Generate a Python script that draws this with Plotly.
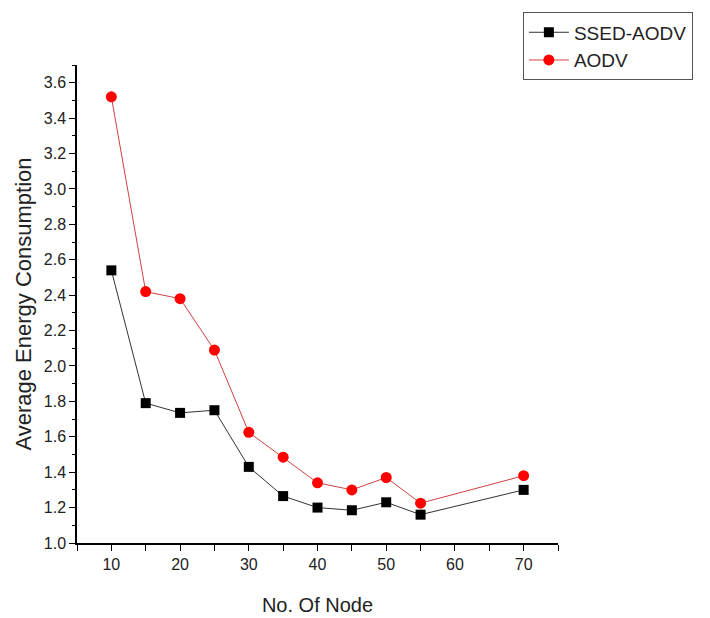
import plotly.graph_objects as go

nodes = [10, 15, 20, 25, 30, 35, 40, 45, 50, 55, 70]
ssed_aodv = [2.54, 1.79, 1.735, 1.75, 1.43, 1.265, 1.20, 1.185, 1.23, 1.16, 1.30]
aodv = [3.52, 2.42, 2.38, 2.09, 1.625, 1.485, 1.34, 1.30, 1.37, 1.225, 1.38]

fig = go.Figure()
fig.add_trace(go.Scatter(x=nodes, y=ssed_aodv, mode="lines+markers", name="SSED-AODV",
                         line=dict(color="#333333", width=1),
                         marker=dict(symbol="square", size=10, color="black")))
fig.add_trace(go.Scatter(x=nodes, y=aodv, mode="lines+markers", name="AODV",
                         line=dict(color="#d04040", width=1),
                         marker=dict(symbol="circle", size=11, color="#ff0000")))

font = "Liberation Sans, Arial, sans-serif"
fig.update_layout(
    width=710, height=618,
    margin=dict(l=77, r=152, t=63, b=75),
    plot_bgcolor="white", paper_bgcolor="white",
    font=dict(family=font, color="#222222"),
    legend=dict(x=0.927, y=1.11, xanchor="left", yanchor="top",
                bordercolor="#555555", borderwidth=1, font=dict(size=19, color="#222222"),
                bgcolor="white", itemwidth=40, tracegroupgap=0),
    xaxis=dict(range=[5, 75], tickvals=[10, 20, 30, 40, 50, 60, 70], ticks="outside",
               ticklen=6, tickcolor="black", showline=True, linecolor="black", linewidth=1.5,
               showgrid=False, zeroline=False, tickfont=dict(size=16), automargin=False,
               minor=dict(tickvals=[5, 15, 25, 35, 45, 55, 65, 75], ticks="outside", ticklen=6, tickcolor="black"),
               title=dict(text="No. Of Node", font=dict(size=20), standoff=26)),
    yaxis=dict(range=[1.0, 3.7], tickvals=[1.0, 1.2, 1.4, 1.6, 1.8, 2.0, 2.2, 2.4, 2.6, 2.8, 3.0, 3.2, 3.4, 3.6],
               tickformat=".1f", ticks="outside", ticklen=6, tickcolor="black",
               showline=True, linecolor="black", linewidth=1.5, automargin=False,
               showgrid=False, zeroline=False, tickfont=dict(size=16),
               minor=dict(tickvals=[1.1, 1.3, 1.5, 1.7, 1.9, 2.1, 2.3, 2.5, 2.7, 2.9, 3.1, 3.3, 3.5, 3.7],
                          ticks="outside", ticklen=3, tickcolor="black"),
               title=dict(text="Average Energy Consumption", font=dict(size=22), standoff=6)),
)
fig.write_html("out.html")
